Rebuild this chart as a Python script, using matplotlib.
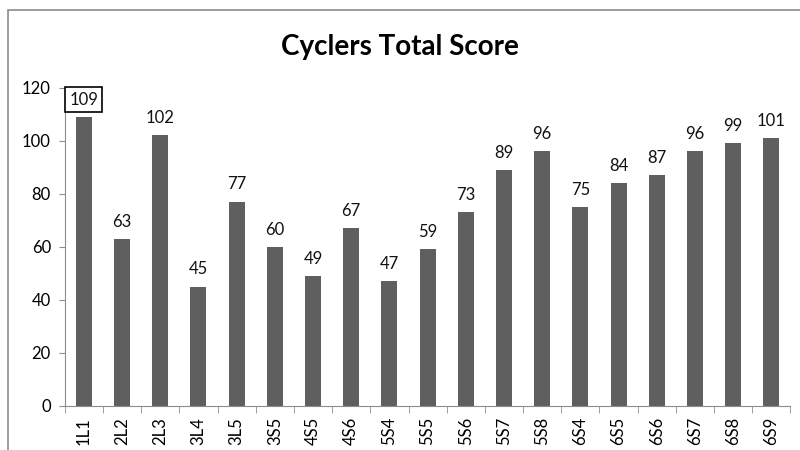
import matplotlib.pyplot as plt
from matplotlib.patches import Rectangle

# chart data
riders = ['1L1', '2L2', '2L3', '3L4', '3L5', '3S5', '4S5', '4S6', '5S4', '5S5',
          '5S6', '5S7', '5S8', '6S4', '6S5', '6S6', '6S7', '6S8', '6S9']
scores = [109, 63, 102, 45, 77, 60, 49, 67, 47, 59,
          73, 89, 96, 75, 84, 87, 96, 99, 101]

plt.rcParams['font.family'] = ['Lato', 'DejaVu Sans']

fig = plt.figure(figsize=(8, 4.5), dpi=100)
ax = fig.add_axes([0.081, 0.098, 0.907, 0.707])

# outer chart border (cropped on right and bottom)
fig.patches.append(Rectangle((8 / 800, -0.1), 1.2, 1.1 - 10 / 450,
                             transform=fig.transFigure, fill=False,
                             edgecolor='#8c8c8c', linewidth=1.2))

x = range(len(riders))
bars = ax.bar(x, scores, width=0.42, color='#5f5f5f')

for i, (b, v) in enumerate(zip(bars, scores)):
    kw = {}
    if i == 0:
        kw['bbox'] = dict(boxstyle='square,pad=0.25', fc='white', ec='black', lw=1.2)
    ax.text(b.get_x() + b.get_width() / 2, v + 3.5, str(v),
            ha='center', va='bottom', fontsize=12, color='#111111', **kw)

ax.set_xlim(-0.5, len(riders) - 0.5)
ax.set_ylim(0, 120)
ax.set_yticks(range(0, 121, 20))
ax.set_xticks(x)
ax.set_xticklabels(riders, rotation=90, fontsize=12)
ax.tick_params(axis='y', labelsize=12, length=4, color='#8c8c8c', pad=6)
ax.tick_params(axis='x', length=0, pad=8)
# category separators below the axis
ax.set_xticks([i - 0.5 for i in range(len(riders) + 1)], minor=True)
ax.tick_params(axis='x', which='minor', length=5, color='#8c8c8c')

for s in ['top', 'right']:
    ax.spines[s].set_visible(False)
for s in ['left', 'bottom']:
    ax.spines[s].set_color('#8c8c8c')

fig.text(0.5, 0.895, 'Cyclers Total Score', ha='center', va='center',
         fontsize=20, fontweight='bold', color='black')

fig.savefig('out.png', dpi=100)
